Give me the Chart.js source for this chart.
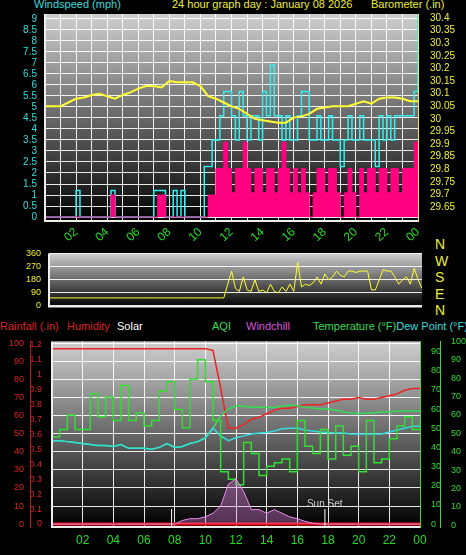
<!DOCTYPE html>
<html><head><meta charset="utf-8">
<script src="https://cdn.jsdelivr.net/npm/chart.js@4"></script>
<style>
body{margin:0;background:#000;width:466px;height:555px;overflow:hidden;position:relative;font-family:"Liberation Sans",Arial,sans-serif}
canvas{position:absolute;left:0}
.t{position:absolute;font-size:11px;white-space:nowrap}
</style></head><body>
<div class="t" style="left:34px;top:-2px;color:#33dddd">Windspeed (mph)</div>
<div class="t" style="left:172px;top:-2px;color:#eeee33">24 hour graph day : January 08 2026</div>
<div class="t" style="left:371px;top:-2px;color:#eeee33">Barometer (.in)</div>
<div class="t" style="left:435px;top:236px;color:#eeee33;font-size:14px;line-height:16.5px">N<br>W<br>S<br>E<br>N</div>
<div class="t" style="left:0px;top:320px;color:#dd2222">Rainfall (.in)</div>
<div class="t" style="left:67px;top:320px;color:#dd2222">Humidity</div>
<div class="t" style="left:117px;top:320px;color:#ffffff">Solar</div>
<div class="t" style="left:212px;top:320px;color:#33dd55">AQI</div>
<div class="t" style="left:246px;top:320px;color:#dd55dd">Windchill</div>
<div class="t" style="left:313px;top:320px;color:#33dd55">Temperature (°F)<span style="color:#33dddd">Dew Point (°F)</span></div>
<canvas id="c1" width="466" height="245" style="top:0"></canvas>
<canvas id="c2" width="466" height="80" style="top:240px"></canvas>
<canvas id="c3" width="466" height="225" style="top:330px"></canvas>
<script>
const hoursQ = Array.from({length:97},(_, i)=>i/4);
const hoursH = Array.from({length:49},(_, i)=>i/2);
const baro = [30.05,30.05,30.05,30.065,30.08,30.085,30.095,30.1,30.09,30.08,30.095,30.105,30.12,30.13,30.13,30.125,30.15,30.145,30.145,30.145,30.13,30.09,30.08,30.065,30.05,30.04,30.02,30.0,29.995,29.99,29.985,29.985,30.005,30.01,30.02,30.04,30.045,30.05,30.05,30.05,30.06,30.07,30.06,30.08,30.085,30.085,30.08,30.07,30.07];
const windGust = [0,0,0,0,0,0,0,0,1.2,0,0,0,0,0,0,0,0,1.2,0,0,0,0,0,0,0,0,0,0,1.2,1.2,1.2,0,0,1.2,0,1.2,0,0,0,0,0,
2.3,2.3,3.5,3.5,4.6,5.7,5.7,4.6,3.5,5.7,4.6,3.5,4.6,4.6,3.5,5.7,4.6,6.9,4.6,4.6,3.5,4.6,3.5,3.5,4.6,5.7,5.7,3.5,3.5,4.6,3.5,3.5,4.6,3.5,3.5,2.3,3.5,4.6,3.5,3.5,4.6,3.5,3.5,3.5,2.3,4.6,3.5,4.6,3.5,4.6,4.6,4.6,4.6,4.6,5.7,9.2];
const windAvg = [0,0,0,0,0,0,0,0,0,0,0,0,0,0,0,0,0,1.0,0,0,0,0,0,0,0,0,0,0,0,1,1,0,0,0,0,0,0,0,0,0,0,0,
1,1,2.2,2.2,3.4,2.2,1.1,2.2,2.2,3.4,2.2,1.1,2.2,2.2,1.1,2.2,2.2,1.1,2.2,3.4,2.2,1.1,2.2,1.1,2.2,1.1,0,1.1,2.2,2.2,1.1,2.2,2.2,1.1,0,1.1,2.2,1.1,0,2.2,1.1,2.2,2.2,1.1,2.2,2.2,1.1,2.2,2.2,1.1,2.2,2.2,2.2,3.4,3.4];
const windDir = [55,55,55,55,55,55,55,55,55,55,55,55,55,55,55,55,55,55,55,55,55,55,55,55,55,55,55,55,55,55,55,55,55,55,55,55,55,55,55,55,55,55,55,55,55,55,
150,240,120,100,200,110,100,180,100,110,90,150,100,90,130,100,150,100,300,130,150,140,160,200,150,220,180,200,240,210,200,240,240,230,240,240,240,110,110,180,250,240,240,200,150,180,200,150,260,180,120];
const humidity = [97,97,97,97,97,97,97,97,97,97,97,97,97,97,97,97,97,97,97,97,97,96,75,53,53,55,58,59,61,63,64,64,65,66,66,66,67,68,69,69,70,69,69,70,71,72,74,75,75];
const temperature = [43.5,43.5,43,42.5,42,41.5,41,41,40.5,41.5,39.5,39.5,39.5,39,40,42,40,40.5,42,43,45,50,56.5,60,61.7,61.5,61,61,60.8,61,61.5,62,61.7,61,60.6,60,60,59.5,58.5,58,57.5,58,58,58.5,58.5,59,59,59,59];
const dewPoint = [43.5,43.5,43,42.5,42,41.5,41,41,40.5,41.5,39.5,39.5,39.5,39,40,42,40,40.5,42,43,45,50,46,43.5,45,46,47,47.5,47.8,48.5,49.7,50,50,49,48.5,48,47.8,47.5,47.5,47,47,47,47,47,48,49,50,51,51];
const aqi = [48,52,60,52,52,71.5,59,69.7,57,76,57,61,54,57,73,78,63,53,79.5,90,78,57,29,25,22,45,39,27,32,34,36,29,57,43,39,52,36,54,38,43,29,57,34,36,47,54,59,52,57];
const solar = [0,0,0,0,0,0,0,0,0,0,0,0,0,0,0,0,0,2,3,3,4,6,10,22,25,18,8,8,6,8,6,4,3,1.5,0.5,0,0,0,0,0,0,0,0,0,0,0,0,0,0];
const rainfall = [0,0];
const rainHours = [0,24];
const sunMarks = [7.8,17.8];

const pts=(xs,ys)=>ys.map((y,i)=>({x:xs[i],y}));
const pad=v=>String(v%24).padStart(2,'0');
const mk=(a,b,s)=>function(sc){const t=[];for(let v=a;v<=b+1e-9;v+=s)t.push({value:Math.round(v*1000)/1000});sc.ticks=t;};
const bgPlugin={id:'bg',beforeDraw(c){const a=c.chartArea,g=c.ctx.createLinearGradient(0,a.top,0,a.bottom);g.addColorStop(0,'#cfcfcf');g.addColorStop(1,'#000');c.ctx.fillStyle=g;c.ctx.fillRect(a.left,a.top,a.right-a.left,a.bottom-a.top);}};
const borderPlugin={id:'bd',afterDraw(c){const a=c.chartArea,x=c.ctx;x.save();x.strokeStyle='#eee';x.lineWidth=2;x.beginPath();x.moveTo(a.left,a.top);x.lineTo(a.left,a.bottom);x.lineTo(a.right,a.bottom);x.stroke();x.restore();}};
const grid={color:'rgba(255,255,255,0.9)',borderDash:[1,2],lineWidth:1,drawTicks:false};
const fit=w=>function(s){s.width=w;};
const fitH=h=>function(s){s.height=h;};
const base={animation:false,responsive:false,plugins:{legend:{display:false},tooltip:{enabled:false}},elements:{point:{radius:0}}};
Chart.defaults.font.family='"Liberation Sans",Arial,sans-serif';

new Chart(document.getElementById('c1'),{type:'line',plugins:[bgPlugin,borderPlugin],
data:{datasets:[
{data:pts(hoursH,baro),yAxisID:'yb',borderColor:'#ffff33',borderWidth:2},
{data:pts(hoursQ,windAvg),yAxisID:'yw',stepped:true,borderColor:'#ff0080',backgroundColor:'#ff0080',fill:'origin',borderWidth:1},
{data:pts(hoursQ,windGust),yAxisID:'yw',stepped:true,borderColor:'#33eeee',borderWidth:1.5}
]},
options:{...base,layout:{padding:{top:11,left:0,right:0,bottom:0}},scales:{
x:{type:'linear',min:0,max:24,afterFit:fitH(24),grid:grid,border:{display:false},ticks:{stepSize:1,autoSkip:false,color:'#22dd22',font:{size:12},padding:4,callback:v=>v>0&&v%2===0?pad(v):''}},
yw:{position:'left',min:-0.18,max:9.22,afterBuildTicks:mk(0,9,0.5),afterFit:fit(45),grid:grid,border:{display:false},ticks:{autoSkip:false,color:'#33dddd',font:{size:10},padding:8,callback:v=>String(v)}},
yb:{position:'right',min:29.595,max:30.416,afterBuildTicks:mk(29.65,30.4,0.05),afterFit:fit(48),grid:{display:false},border:{color:'#eeee33'},ticks:{autoSkip:false,color:'#eeee33',font:{size:10},padding:4,callback:v=>String(Math.round(v*100)/100)}}
}}});

new Chart(document.getElementById('c2'),{type:'line',plugins:[bgPlugin,borderPlugin],
data:{datasets:[{data:pts(hoursQ,windDir),yAxisID:'y',borderColor:'#ffff33',borderWidth:1}]},
options:{...base,layout:{padding:{top:5,bottom:9}},scales:{
x:{type:'linear',min:0,max:24,display:false},
y:{position:'left',min:-5,max:362,afterBuildTicks:mk(0,360,90),afterFit:fit(49),grid:grid,border:{display:false},ticks:{color:'#eeee33',font:{size:9},padding:8}},
y2:{position:'right',min:-5,max:362,afterFit:fit(44),grid:{display:false},border:{display:false},ticks:{display:false}}
}}});

const sunPlugin={id:'sun',afterDatasetsDraw(c){const x=c.scales.x,a=c.chartArea,ctx=c.ctx;ctx.save();ctx.strokeStyle='#fff';ctx.lineWidth=1;
sunMarks.forEach(h=>{const px=x.getPixelForValue(h);ctx.beginPath();ctx.moveTo(px,a.bottom);ctx.lineTo(px,a.bottom-18);ctx.stroke();});
ctx.fillStyle='#ccc';ctx.font='10px "Liberation Sans"';ctx.fillText('Sun Set',x.getPixelForValue(sunMarks[1])-18,a.bottom-20);ctx.restore();}};
new Chart(document.getElementById('c3'),{type:'line',plugins:[bgPlugin,sunPlugin,borderPlugin],
data:{datasets:[
{data:pts(hoursH,solar),yAxisID:'yh',borderColor:'#ee88ee',backgroundColor:'rgba(238,136,238,0.35)',fill:'origin',borderWidth:1},
{data:pts(rainHours,rainfall),yAxisID:'yr',borderColor:'#ee1111',borderWidth:3},
{data:pts(hoursH,aqi),yAxisID:'ya',stepped:true,borderColor:'#33dd33',borderWidth:1.5},
{data:pts(hoursH,dewPoint),yAxisID:'yt',borderColor:'#33dddd',borderWidth:1.5},
{data:pts(hoursH,temperature),yAxisID:'yt',borderColor:'#33dd55',borderWidth:1.5},
{data:pts(hoursH,humidity),yAxisID:'yh',borderColor:'#ee2222',borderWidth:1.5}
]},
options:{...base,layout:{padding:{top:10}},scales:{
x:{type:'linear',min:0,max:24,afterFit:fitH(28),grid:{...grid},border:{display:false},ticks:{stepSize:2,color:'#22dd22',font:{size:12},padding:6,callback:v=>v>0?pad(v):''}},
yr:{position:'left',min:-0.02,max:1.22,afterBuildTicks:mk(0,1.2,0.1),afterFit:fit(22),grid:{display:false},border:{color:'#cc1111'},ticks:{autoSkip:false,color:'#dd2222',font:{size:9},padding:2,callback:v=>String(Math.round(v*10)/10)}},
yh:{position:'left',min:-1.6,max:101,afterBuildTicks:mk(0,100,10),afterFit:fit(30),grid:grid,border:{color:'#cc1111'},ticks:{autoSkip:false,color:'#dd2222',font:{size:9},padding:6}},
yt:{position:'right',min:-1.55,max:95.3,afterBuildTicks:mk(0,90,10),afterFit:fit(20),grid:{display:false},border:{color:'#33dd33'},ticks:{autoSkip:false,color:'#33dd33',font:{size:9},padding:3}},
ya:{position:'right',min:-1,max:100,afterBuildTicks:mk(0,100,10),afterFit:fit(26),grid:{display:false},border:{color:'#33dd33'},ticks:{autoSkip:false,color:'#33dd33',font:{size:9},padding:3}}
}}});
</script></body></html>
